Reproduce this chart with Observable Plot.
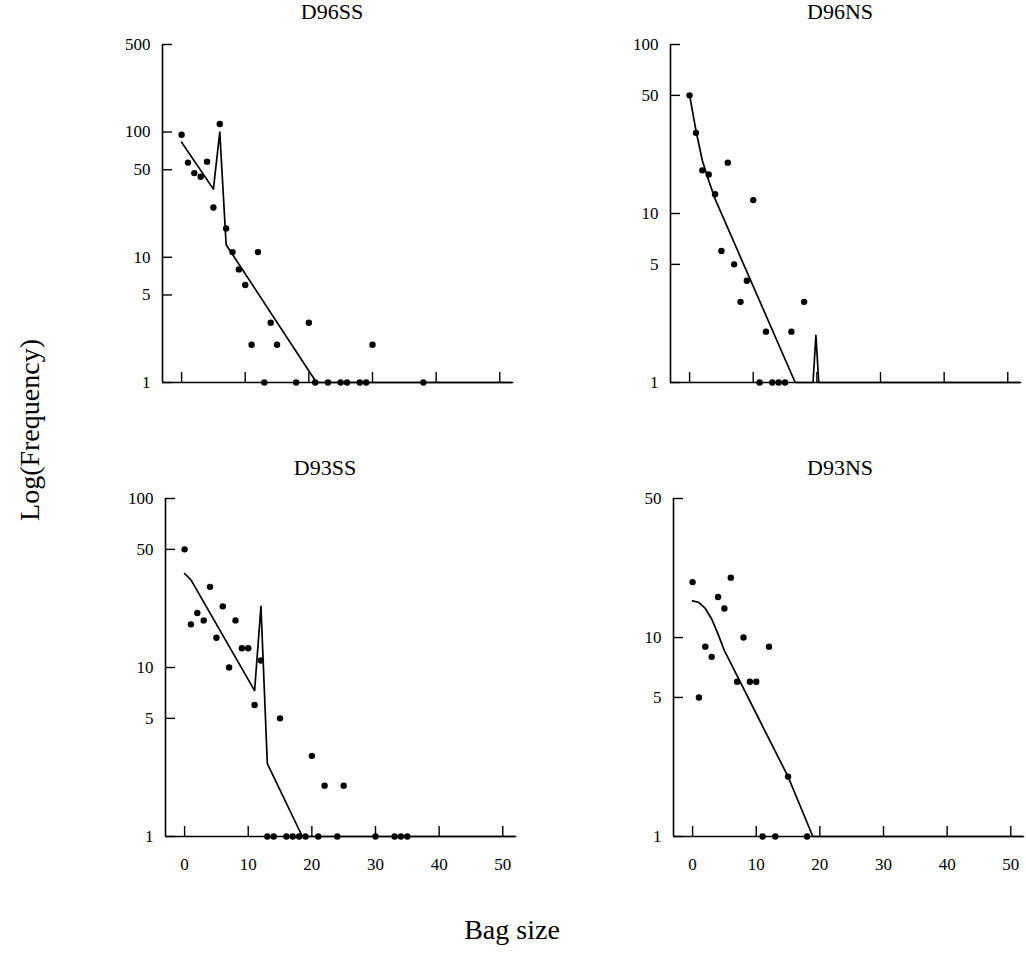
<!DOCTYPE html>
<html>
<head>
<meta charset="utf-8">
<script src="https://cdn.jsdelivr.net/npm/d3@7"></script>
<script src="https://cdn.jsdelivr.net/npm/@observablehq/plot@0.6"></script>
<style>
  body { margin: 0; background: #fff; }
  #wrap { position: relative; width: 1026px; height: 958px; font-family: "Liberation Serif", "Times New Roman", serif; color: #000; overflow: hidden; }
  .panel { position: absolute; }
  .title { position: absolute; font-size: 22px; line-height: 22px; transform: translateX(-50%); white-space: nowrap; }
  .ylab { position: absolute; font-size: 28px; line-height: 28px; white-space: nowrap; transform: translate(-50%, -50%) rotate(-90deg); }
  .xlab { position: absolute; font-size: 28px; line-height: 28px; white-space: nowrap; transform: translate(-50%, -50%); }
</style>
</head>
<body>
<div id="wrap"></div>
<script>
// ---- shared tick labels ----
const xTicks = [0, 10, 20, 30, 40, 50];
const xDomain = [-3, 52];

// ---- D96SS ----
const d96ssTicks = [1, 5, 10, 50, 100, 500];
const d96ssX = [0, 1, 2, 3, 4, 5, 6, 7, 8, 9, 10, 11, 12, 13, 14, 15, 18, 20, 21, 23, 25, 26, 28, 29, 30, 38];
const d96ssY = [95, 57, 47, 44, 58, 25, 116, 17, 11, 8, 6, 2, 11, 1, 3, 2, 1, 3, 1, 1, 1, 1, 1, 1, 2, 1];
const d96ssFitX = [0, 5, 6, 7, 21.2, 52];
const d96ssFitY = [83, 35, 100, 12.6, 1, 1];

// ---- D96NS ----
const d96nsTicks = [1, 5, 10, 50, 100];
const d96nsX = [0, 1, 2, 3, 4, 5, 6, 7, 8, 9, 10, 11, 12, 13, 14, 15, 16, 18];
const d96nsY = [50, 30, 18, 17, 13, 6, 20, 5, 3, 4, 12, 1, 2, 1, 1, 1, 2, 3];
const d96nsFitX = [0, 1, 2, 3, 4, 16.6, 19.4, 19.85, 20.3, 52];
const d96nsFitY = [50, 31, 20.6, 15.7, 12.2, 1, 1, 1.9, 1, 1];

// ---- D93SS ----
const d93ssTicks = [1, 5, 10, 50, 100];
const d93ssX = [0, 1, 2, 3, 4, 5, 6, 7, 8, 9, 10, 11, 12, 13, 14, 15, 16, 17, 18, 19, 20, 21, 22, 24, 25, 30, 33, 34, 35];
const d93ssY = [50, 18, 21, 19, 30, 15, 23, 10, 19, 13, 13, 6, 11, 1, 1, 5, 1, 1, 1, 1, 3, 1, 2, 1, 2, 1, 1, 1, 1];
const d93ssFitX = [0, 1, 11, 12, 13, 18.5, 52];
const d93ssFitY = [36, 33, 7.3, 23, 2.7, 1, 1];

// ---- D93NS ----
const d93nsTicks = [1, 5, 10, 50];
const d93nsX = [0, 1, 2, 3, 4, 5, 6, 7, 8, 9, 10, 11, 12, 13, 15, 18];
const d93nsY = [19, 5, 9, 8, 16, 14, 20, 6, 10, 6, 6, 1, 9, 1, 2, 1];
const d93nsFitX = [0, 1, 2, 3, 4, 5, 15, 18.9, 52];
const d93nsFitY = [15.3, 15, 14, 12.4, 10.4, 8.6, 2, 1, 1];

const panels = [
  {title: "D96SS", xs: d96ssX, ys: d96ssY, fx: d96ssFitX, fy: d96ssFitY, yTicks: d96ssTicks, yDomain: [1, 500], labels: false, left: 102, top: 34, tx: 332, ty: 1},
  {title: "D96NS", xs: d96nsX, ys: d96nsY, fx: d96nsFitX, fy: d96nsFitY, yTicks: d96nsTicks, yDomain: [1, 100], labels: false, left: 610, top: 34, tx: 840, ty: 1},
  {title: "D93SS", xs: d93ssX, ys: d93ssY, fx: d93ssFitX, fy: d93ssFitY, yTicks: d93ssTicks, yDomain: [1, 100], labels: true, left: 105, top: 488, tx: 325, ty: 457},
  {title: "D93NS", xs: d93nsX, ys: d93nsY, fx: d93nsFitX, fy: d93nsFitY, yTicks: d93nsTicks, yDomain: [1, 50], labels: true, left: 613, top: 488, tx: 840, ty: 457}
];

const wrap = document.getElementById("wrap");
const FW = 350, FH = 338, ML = 60, MR = 10, MT = 10, MB = 50;

for (const p of panels) {
  const pts = p.xs.map((x, i) => ({x, y: p.ys[i]}));
  const fit = p.fx.map((x, i) => ({x, y: p.fy[i]}));
  const marks = [
    Plot.ruleY([p.yDomain[0]], {stroke: "#000", strokeWidth: 1.6}),
    Plot.ruleX([xDomain[0]], {stroke: "#000", strokeWidth: 1.6}),
    Plot.tickY(p.yTicks, {y: d => d, stroke: "#000", strokeWidth: 1.4, insetRight: FW - 10}),
    Plot.tickX(xTicks, {x: d => d, stroke: "#000", strokeWidth: 1.4, insetTop: FH - 10}),
    Plot.text(p.yTicks, {y: d => d, text: d => String(d), frameAnchor: "left", textAnchor: "end", dx: -12, fontSize: 17, fill: "#000"}),
    Plot.line(fit, {x: "x", y: "y", stroke: "#000", strokeWidth: 1.7}),
    Plot.dot(pts, {x: "x", y: "y", r: 3.2, fill: "#000"})
  ];
  if (p.labels) {
    marks.push(Plot.text(xTicks, {x: d => d, text: d => String(d), frameAnchor: "bottom", dy: 33, fontSize: 17, fill: "#000"}));
  }
  const chart = Plot.plot({
    width: ML + FW + MR,
    height: MT + FH + MB,
    marginLeft: ML, marginRight: MR, marginTop: MT, marginBottom: MB,
    style: {fontFamily: "'Liberation Serif', 'Times New Roman', serif", fontSize: "17px", color: "#000", background: "transparent", overflow: "visible"},
    x: {domain: xDomain, axis: null},
    y: {type: "log", domain: p.yDomain, axis: null},
    marks
  });
  chart.classList.add("panel");
  chart.style.left = p.left + "px";
  chart.style.top = p.top + "px";
  wrap.appendChild(chart);

  const t = document.createElement("div");
  t.className = "title";
  t.textContent = p.title;
  t.style.left = p.tx + "px";
  t.style.top = p.ty + "px";
  wrap.appendChild(t);
}

const yl = document.createElement("div");
yl.className = "ylab";
yl.textContent = "Log(Frequency)";
yl.style.left = "30px";
yl.style.top = "430px";
wrap.appendChild(yl);

const xl = document.createElement("div");
xl.className = "xlab";
xl.textContent = "Bag size";
xl.style.left = "512px";
xl.style.top = "930px";
wrap.appendChild(xl);
</script>
</body>
</html>
